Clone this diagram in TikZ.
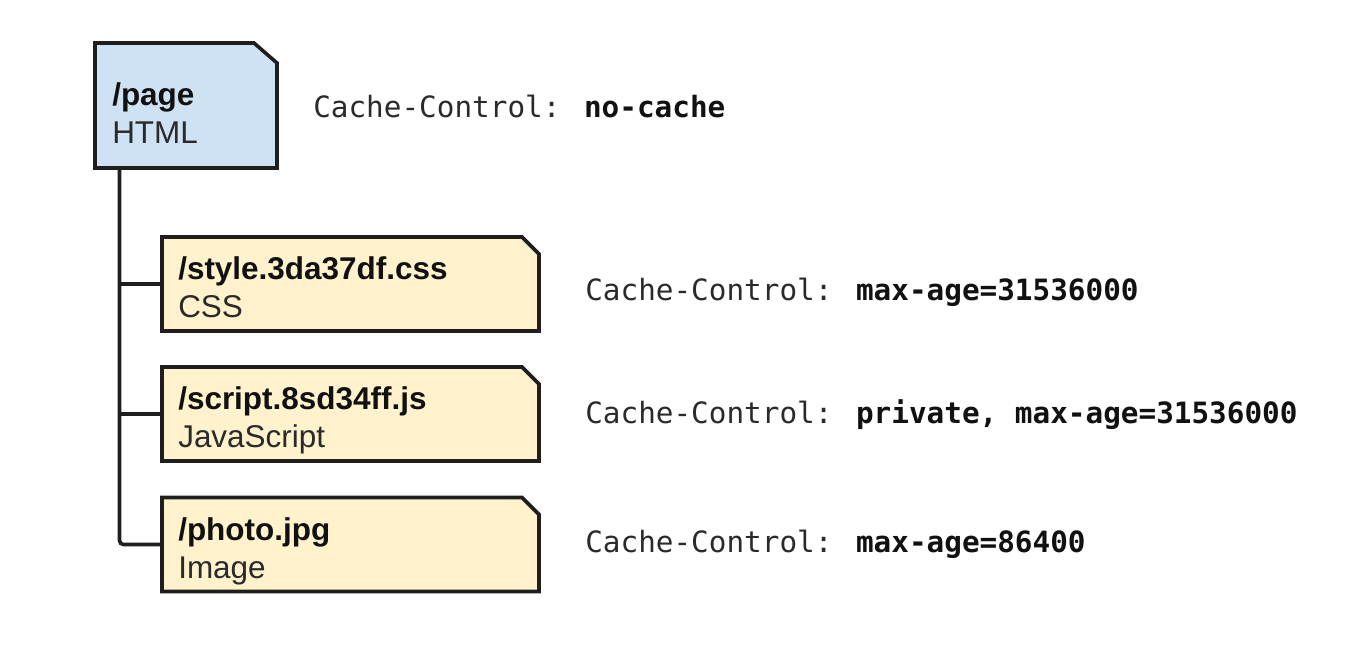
\documentclass[tikz,border=0pt]{standalone}
\usepackage{fontspec}
\setmainfont{Liberation Sans}
\newfontfamily\monof{DejaVu Sans Mono}
\usetikzlibrary{calc}
\definecolor{bluefill}{HTML}{CFE2F3}
\definecolor{orangefill}{HTML}{FFF2CC}
\definecolor{edge}{HTML}{1E1E1E}
\definecolor{txt}{HTML}{2A2A2A}
\definecolor{txtb}{HTML}{111111}
\newcommand\cutbox[4]{\draw[boxline,fill=#2] (#1.south west) -- (#1.north west) -- ($(#1.north east)+(-#3,0)$) -- ($(#1.north east)+(0,#4)$) -- (#1.south east) -- cycle;}
\begin{document}
\begin{tikzpicture}[x=0.75pt,y=-0.75pt,
  boxarea/.style={draw=none,inner sep=0pt,outer sep=0pt,minimum width=282.75pt,minimum height=70.5pt},
  boxline/.style={draw=edge,line width=2.7pt,line join=miter},
  conn/.style={draw=edge,line width=2.7pt,rounded corners=3pt},
  nameline/.style={anchor=base west,inner sep=0pt,font=\fontsize{23.6}{28}\selectfont\bfseries,text=txtb},
  kindline/.style={anchor=base west,inner sep=0pt,font=\fontsize{23.6}{28}\selectfont,text=txt},
  hdr/.style={anchor=base west,inner sep=0pt,font=\monof\fontsize{22}{26}\selectfont,text=txt}
]
\useasboundingbox (0,0) rectangle (1370,654);
% box areas
\node[boxarea,minimum width=136.5pt,minimum height=93.75pt] (page) at (186,105.5) {};
\node[boxarea] (style) at (350.5,284) {};
\node[boxarea] (script) at (350.5,414) {};
\node[boxarea] (photo) at (350.5,544.5) {};
\coordinate (trunk) at (119.5,168);
% connectors
\draw[conn] (trunk) |- (photo.west);
\draw[conn] (trunk |- style.west) -- (style.west);
\draw[conn] (trunk |- script.west) -- (script.west);
% outlines
\cutbox{page}{bluefill}{23}{20}
\cutbox{style}{orangefill}{17}{17}
\cutbox{script}{orangefill}{17}{17}
\cutbox{photo}{orangefill}{17}{17}
% texts
\node[nameline] (pageN) at (112,105) {/page};
\node[kindline] (pageK) at (112,143) {HTML};
\node[nameline] (styleN) at (178,279) {/style.3da37df.css};
\node[kindline] (styleK) at (178,317) {CSS};
\node[nameline] (scriptN) at (178,409) {/script.8sd34ff.js};
\node[kindline] (scriptK) at (178,447) {JavaScript};
\node[nameline] (photoN) at (178,540) {/photo.jpg};
\node[kindline] (photoK) at (178,578) {Image};
% headers
\node[hdr] (h1) at (313,117) {Cache-Control: {\bfseries\color{txtb}no-cache}};
\node[hdr] (h2) at (585,300) {Cache-Control: {\bfseries\color{txtb}max-age=31536000}};
\node[hdr] (h3) at (585,423) {Cache-Control: {\bfseries\color{txtb}private, max-age=31536000}};
\node[hdr] (h4) at (585,552) {Cache-Control: {\bfseries\color{txtb}max-age=86400}};
\end{tikzpicture}
\end{document}
